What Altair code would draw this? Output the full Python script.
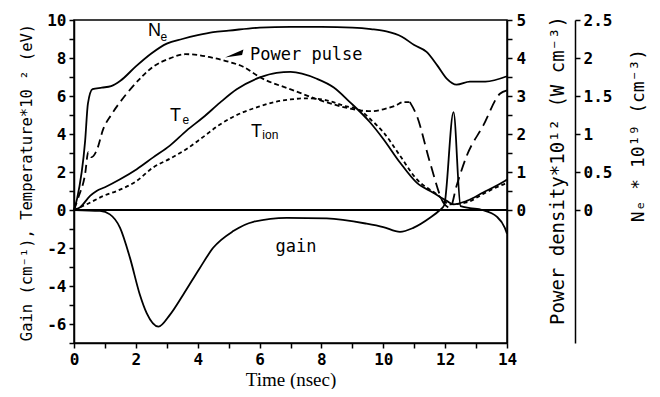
import altair as alt
import pandas as pd

# ---------------- data ----------------
# Electron density, 10^19 cm^-3
ne_t = [0, 0.1, 0.36, 0.45, 0.6, 0.9, 1.2, 1.5, 2.0, 2.5, 3.0, 3.5, 4.0, 4.5, 5.0, 6.0,
        7.0, 8.0, 9.0, 9.6, 10.1, 10.6, 11.0, 11.4, 11.75, 12.05, 12.37, 12.8, 13.3, 14.0]
ne_val = [0, 0.15, 0.91, 1.4, 1.59, 1.61, 1.63, 1.7, 1.89, 2.06, 2.19, 2.25, 2.3, 2.34, 2.36, 2.4,
          2.41, 2.41, 2.4, 2.38, 2.35, 2.28, 2.17, 2.08, 1.9, 1.73, 1.65, 1.69, 1.69, 1.76]

# Power pulse, 10^12 W cm^-3
pw_t = [0, 0.14, 0.36, 0.46, 0.57, 0.73, 0.95, 1.2, 1.49, 2.03, 2.56, 3.1, 3.6, 4.0, 4.4, 5.0,
        5.47, 6.0, 7.09, 7.95, 8.71, 9.25, 9.6, 10.0, 10.4, 10.65, 10.86, 11.08, 11.51, 11.94,
        12.16, 12.37, 12.7, 13.23, 13.77, 14.0]
pw_val = [0, 0.33, 0.95, 1.52, 1.39, 1.56, 2.14, 2.5, 2.84, 3.37, 3.77, 3.99, 4.1, 4.08, 4.02, 3.9,
          3.77, 3.5, 3.15, 2.89, 2.71, 2.62, 2.6, 2.65, 2.75, 2.84, 2.84, 2.49, 1.25, 0.2,
          0.06, 0.64, 1.43, 2.22, 3.06, 3.15]

# Electron temperature, 10^2 eV
te_t = [0, 0.2, 0.52, 0.73, 1.0, 1.49, 2.03, 2.56, 3.1, 3.64, 4.18, 4.72, 5.26, 6.01, 6.55,
        7.0, 7.85, 8.4, 8.92, 9.57, 10.0, 10.54, 11.08, 11.6, 12.05, 12.27, 12.7, 13.23, 13.93, 14.0]
te_val = [0, 0.15, 0.74, 1.0, 1.2, 1.62, 2.15, 2.77, 3.39, 4.18, 4.88, 5.65, 6.35, 6.98, 7.22,
          7.27, 6.91, 6.45, 5.68, 4.62, 3.74, 2.5, 1.44, 0.92, 0.48, 0.3, 0.48, 0.92, 1.53, 1.6]

# Ion temperature, 10^2 eV
ti_t = [0, 0.41, 0.95, 1.38, 2.0, 2.56, 3.1, 3.64, 4.18, 4.72, 5.47, 6.0, 6.55, 7.0, 7.5,
        8.17, 8.7, 9.25, 9.6, 10.0, 10.54, 11.08, 11.73, 12.16, 12.7, 13.23, 13.93, 14.0]
ti_val = [0, 0.3, 0.74, 1.0, 1.5, 2.24, 2.7, 3.21, 3.85, 4.5, 5.15, 5.45, 5.71, 5.82, 5.88,
          5.77, 5.5, 5.24, 4.75, 4.1, 2.86, 1.62, 0.83, 0.3, 0.4, 0.85, 1.38, 1.42]

# Gain, cm^-1
gain_t = [0, 0.84, 1.16, 1.49, 1.81, 2.13, 2.35, 2.73, 3.1, 3.53, 4.07, 4.5, 5.15, 5.8, 6.88,
          8.17, 9.46, 10.0, 10.54, 10.97, 11.51, 11.83, 11.97, 12.27, 12.5, 12.8, 13.2, 13.67,
          13.93, 14.0]
gain_val = [0, -0.05, -0.23, -0.94, -2.52, -4.46, -5.43, -6.14, -5.52, -4.46, -3.05, -1.99,
            -1.11, -0.62, -0.41, -0.44, -0.72, -0.9, -1.15, -0.94, -0.41, 0.0, 0.25, 5.15, 0.2,
            0.1, 0.0, -0.35, -0.94, -1.25]

x_ticks = list(range(0, 15))
left_ticks = list(range(-7, 11))
power_ticks = [0, 0.5, 1, 1.5, 2, 2.5, 3, 3.5, 4, 4.5, 5]
ne_ticks = [0, 0.5, 1, 1.5, 2, 2.5]

ne_df = pd.DataFrame({"t": ne_t, "v": ne_val})
pw_df = pd.DataFrame({"t": pw_t, "v": pw_val})
te_df = pd.DataFrame({"t": te_t, "v": te_val})
ti_df = pd.DataFrame({"t": ti_t, "v": ti_val})
gain_df = pd.DataFrame({"t": gain_t, "v": gain_val})

# annotation anchors (data coordinates)
pulse_label = pd.DataFrame({"t": [5.69], "v": [8.15], "txt": ["Power pulse"]})
gain_label = pd.DataFrame({"t": [7.18], "v": [-1.96], "txt": ["gain"]})
big_labels = pd.DataFrame({"t": [2.39, 3.1, 5.72], "v": [9.42, 4.95, 4.13], "txt": ["N", "T", "T"]})
sub_labels = pd.DataFrame({"t": [2.8, 3.51, 6.09], "v": [9.13, 4.74, 3.97], "txt": ["e", "e", "ion"]})
arrow_df = pd.DataFrame({"t": [5.18], "v": [8.23]})

MONO = "DejaVu Sans Mono"
SANS = "Liberation Sans"
LW = 1.8
INTERP = "monotone"

common_axis = dict(domainColor="black", tickColor="black", labelColor="black", titleColor="black",
                   domainWidth=1.5, tickWidth=1.5, grid=False, labelOverlap=False,
                   labelFont=MONO, labelFontSize=16, labelFontWeight="bold",
                   titleFontWeight="normal")

xaxis = alt.Axis(values=x_ticks, labelExpr="datum.value % 2 == 0 ? '' + datum.value : ''",
                 title="Time (nsec)", titleFont="Liberation Serif", titleFontSize=19,
                 tickSize=5, labelPadding=3, titlePadding=3, labelFlush=False, **common_axis)
xscale = alt.Scale(domain=[0, 14], nice=False, zero=False)
X = alt.X("t:Q", scale=xscale, axis=xaxis)

yl_scale = alt.Scale(domain=[-7, 10], nice=False, zero=False)
yl_axis = alt.Axis(values=left_ticks, orient="left",
                   labelExpr="datum.value % 2 == 0 ? '' + datum.value : ''",
                   title="Gain  (cm⁻¹),  Temperature*10 ² (eV)", titleFont=MONO, titleFontSize=15.5,
                   titleAngle=270, titleX=-48, titleY=162, titleAlign="center", titleBaseline="middle",
                   tickSize=5, labelPadding=3, labelFlush=False, **common_axis)
YL = alt.Y("v:Q", scale=yl_scale, axis=yl_axis)

pw_scale = alt.Scale(domain=[-3.5, 5], nice=False, zero=False)
pw_axis = alt.Axis(values=power_ticks, orient="right",
                   labelExpr="datum.value % 1 == 0 ? '' + datum.value : ''",
                   title="Power density*10¹² (W cm⁻³)", titleFont=MONO, titleFontSize=19,
                   titleAngle=270, titleX=50, titleY=150, titleAlign="center", titleBaseline="middle",
                   tickSize=5, labelPadding=4, labelFlush=False, **common_axis)
YP = alt.Y("v:Q", scale=pw_scale, axis=pw_axis)

ne_scale = alt.Scale(domain=[-1.75, 2.5], nice=False, zero=False)
ne_axis = alt.Axis(values=ne_ticks, orient="right", offset=68,
                   labelExpr="'' + datum.value",
                   title="Nₑ * 10¹⁹ (cm⁻³)", titleFont=MONO, titleFontSize=18,
                   titleAngle=270, titleX=63, titleY=115, titleAlign="center", titleBaseline="middle",
                   tickSize=5, labelPadding=3, labelFlush=False, **common_axis)
YN = alt.Y("v:Q", scale=ne_scale, axis=ne_axis)

zero_rule = alt.Chart(te_df).mark_rule(color="black", strokeWidth=1.5).encode(
    y=alt.YDatum(0, scale=yl_scale, axis=yl_axis))
te_line = alt.Chart(te_df).mark_line(color="black", strokeWidth=LW, interpolate=INTERP).encode(x=X, y=YL)
ti_line = alt.Chart(ti_df).mark_line(color="black", strokeWidth=LW, strokeDash=[4, 3],
                                     interpolate=INTERP).encode(x=X, y=YL)
gain_line = alt.Chart(gain_df).mark_line(color="black", strokeWidth=LW, interpolate=INTERP).encode(x=X, y=YL)

pulse_text = alt.Chart(pulse_label).mark_text(font=MONO, fontSize=17, color="black", align="left",
                                              baseline="middle").encode(x=X, y=YL, text="txt:N")
gain_text = alt.Chart(gain_label).mark_text(font=MONO, fontSize=17, color="black", align="center",
                                            baseline="middle").encode(x=X, y=YL, text="txt:N")
big_text = alt.Chart(big_labels).mark_text(font=SANS, fontSize=18, color="black", align="left",
                                           baseline="middle").encode(x=X, y=YL, text="txt:N")
sub_text = alt.Chart(sub_labels).mark_text(font=SANS, fontSize=12, color="black", align="left",
                                           baseline="middle").encode(x=X, y=YL, text="txt:N")
arrow = alt.Chart(arrow_df).mark_point(shape="M -1 0.41 L 1 -0.46 L 0.85 0.16 Z", filled=True,
                                       size=340, color="black", opacity=1).encode(x=X, y=YL)

left = alt.layer(zero_rule, te_line, ti_line, gain_line, pulse_text, gain_text, big_text, sub_text, arrow)

pw1 = alt.Chart(pw_df).transform_filter("datum.t <= 2.03").mark_line(
    color="black", strokeWidth=LW, strokeDash=[8, 5], interpolate=INTERP).encode(x=X, y=YP)
pw2 = alt.Chart(pw_df).transform_filter("datum.t >= 2.03 && datum.t <= 10.86").mark_line(
    color="black", strokeWidth=LW, strokeDash=[5, 3], interpolate=INTERP).encode(x=X, y=YP)
pw3 = alt.Chart(pw_df).transform_filter("datum.t >= 10.86").mark_line(
    color="black", strokeWidth=LW, strokeDash=[11, 6], interpolate=INTERP).encode(x=X, y=YP)
power = alt.layer(pw1, pw2, pw3)

ne_line = alt.Chart(ne_df).mark_line(color="black", strokeWidth=LW, interpolate=INTERP).encode(x=X, y=YN)

chart = alt.layer(left, power, ne_line).resolve_scale(y="independent").properties(
    width=433, height=323,
    padding={"left": 66, "top": 12, "right": 144, "bottom": 46},
    autosize=alt.AutoSizeParams(type="none"),
    background="white",
).configure_view(stroke="black", strokeWidth=1.5)

chart.save("out.html", embed_options={"renderer": "svg", "actions": False})
